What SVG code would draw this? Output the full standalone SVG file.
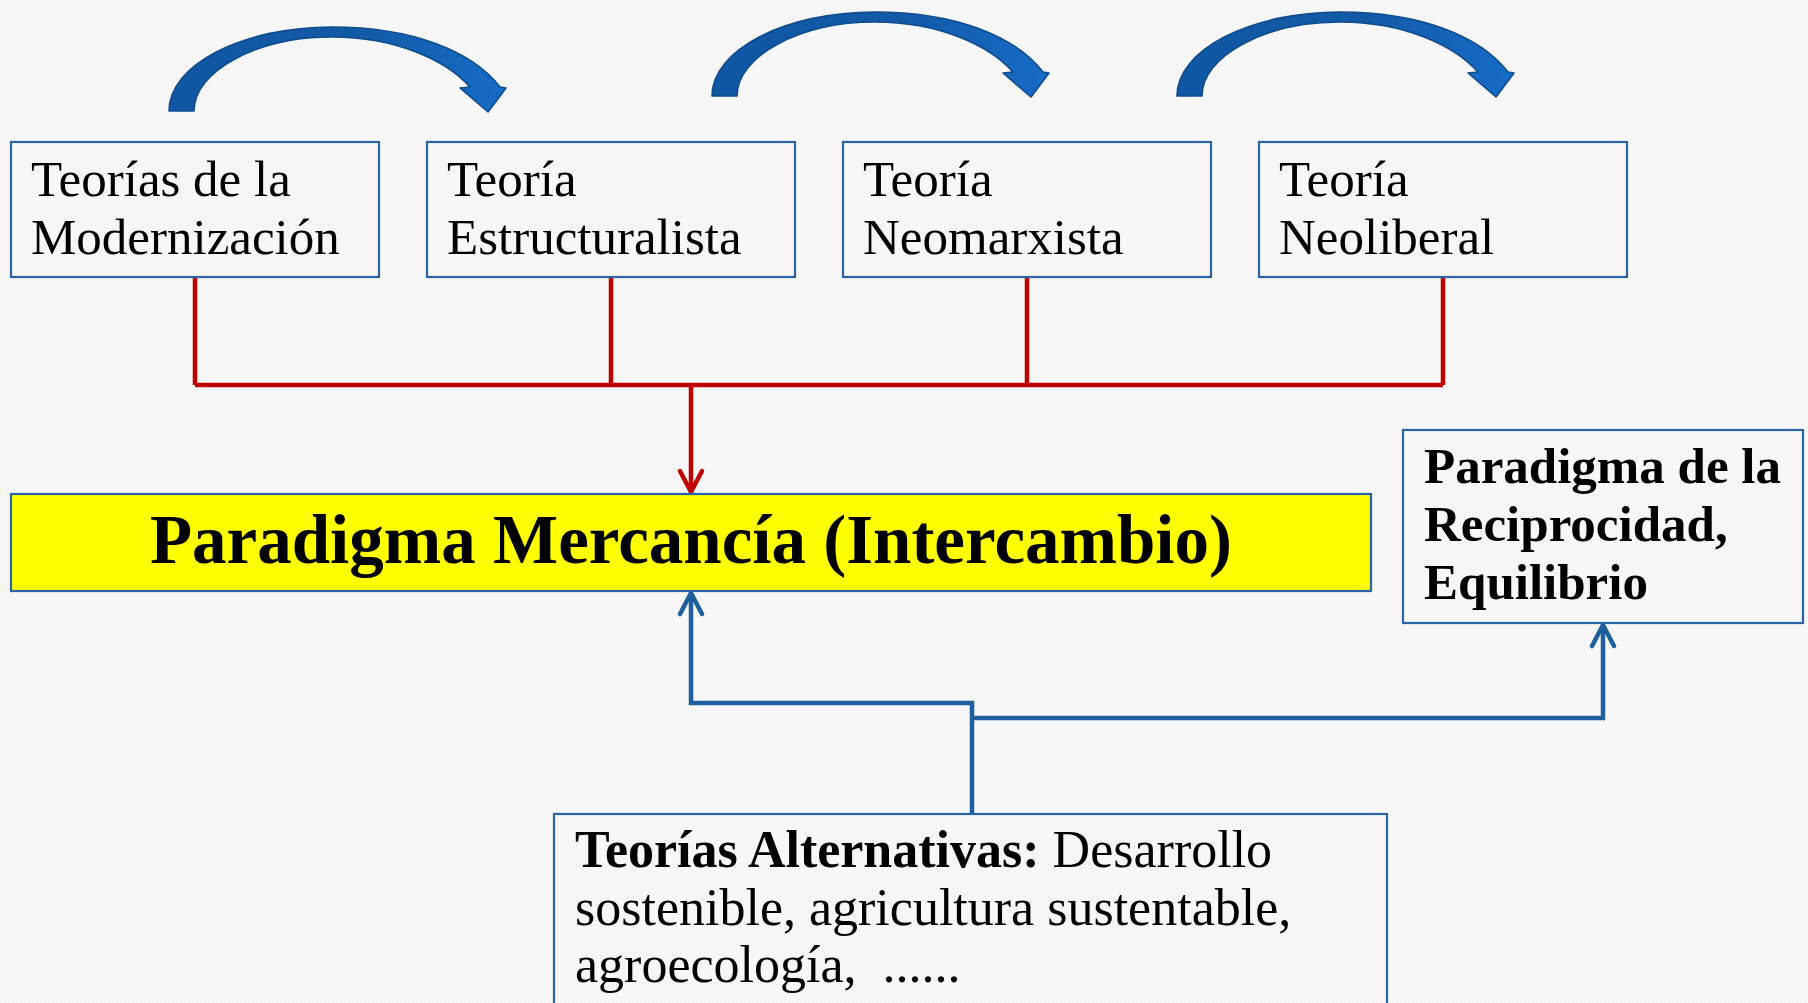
<svg xmlns="http://www.w3.org/2000/svg" width="1808" height="1003" viewBox="0 0 1808 1003">
<style>
.box{fill:none;stroke:#2A63A8;stroke-width:2.2}
.t{font-family:"Liberation Serif","Times New Roman",serif;fill:#000}
.reg{font-size:51px}
.bold{font-weight:bold}
.red{fill:none;stroke:#C00000;stroke-width:4.5}
.blue{fill:none;stroke:#1F5FA0;stroke-width:4.5}
.carrow{fill:url(#ag);stroke:#0E4C8E;stroke-width:1.6;stroke-linejoin:round}
</style>
<defs>
<pattern id="bg" width="4" height="4" patternUnits="userSpaceOnUse">
<rect width="4" height="4" fill="#F8F8F8"/>
<rect x="0" y="0" width="1" height="1" fill="#EDEDED"/>
<rect x="2" y="2" width="1" height="1" fill="#EFEFEF"/>
</pattern>
<linearGradient id="ag" x1="0" y1="0" x2="1" y2="0">
<stop offset="0" stop-color="#0F57A3"/>
<stop offset="0.55" stop-color="#1259A6"/>
<stop offset="1" stop-color="#176BC7"/>
</linearGradient>
<path id="curved" class="carrow" d="M 712,96 C 712,50 785,12 875,12 C 955,12 1015,36 1043,72 L 1049,73 L 1031,97 L 1003,73 L 1013,72 C 990,46 940,22 875,22 C 800,22 737,56 737,96 Z"/>
<marker id="mr" markerUnits="userSpaceOnUse" orient="auto" refX="0" refY="0" markerWidth="30" markerHeight="30" overflow="visible">
<path d="M -21,-11 L 0,0 L -21,11" fill="none" stroke="#C00000" stroke-width="4.5" stroke-linecap="round" stroke-linejoin="round"/>
</marker>
<marker id="mb" markerUnits="userSpaceOnUse" orient="auto" refX="0" refY="0" markerWidth="30" markerHeight="30" overflow="visible">
<path d="M -21,-11 L 0,0 L -21,11" fill="none" stroke="#1F5FA0" stroke-width="4.5" stroke-linecap="round" stroke-linejoin="round"/>
</marker>
</defs>
<rect width="1808" height="1003" fill="url(#bg)"/>

<g id="curved-arrows">
<use href="#curved" transform="translate(-543,15)"/>
<use href="#curved"/>
<use href="#curved" transform="translate(465,0)"/>
</g>

<g id="connectors">
<path class="red" d="M195,277 V385 M611,277 V385 M1027,277 V385 M1443,277 V385 M195,385 H1443"/>
<path class="red" d="M691,385 V492" marker-end="url(#mr)"/>
<path class="blue" d="M972,814 V703 H691 V593" marker-end="url(#mb)"/>
<path class="blue" d="M972,718 H1603 V625" marker-end="url(#mb)"/>
</g>

<g id="n1">
<rect class="box" x="11" y="142" width="368" height="135"/>
<text class="t reg" x="31" y="196">Teorías de la</text>
<text class="t reg" x="31" y="254">Modernización</text>
</g>
<g id="n2">
<rect class="box" x="427" y="142" width="368" height="135"/>
<text class="t reg" x="447" y="196">Teoría</text>
<text class="t reg" x="447" y="254">Estructuralista</text>
</g>
<g id="n3">
<rect class="box" x="843" y="142" width="368" height="135"/>
<text class="t reg" x="863" y="196">Teoría</text>
<text class="t reg" x="863" y="254">Neomarxista</text>
</g>
<g id="n4">
<rect class="box" x="1259" y="142" width="368" height="135"/>
<text class="t reg" x="1279" y="196">Teoría</text>
<text class="t reg" x="1279" y="254">Neoliberal</text>
</g>

<g id="n5">
<rect x="11" y="494" width="1360" height="97" fill="#FFFF00" stroke="#2A63A8" stroke-width="2.2"/>
<text class="t bold" x="691" y="563" font-size="69" text-anchor="middle">Paradigma Mercancía (Intercambio)</text>
</g>

<g id="n6">
<rect class="box" x="1403" y="430" width="400" height="193"/>
<text class="t bold" x="1424" y="483" font-size="51">Paradigma de la</text>
<text class="t bold" x="1424" y="541" font-size="51">Reciprocidad,</text>
<text class="t bold" x="1424" y="599" font-size="51">Equilibrio</text>
</g>

<g id="n7">
<rect class="box" x="554" y="814" width="833" height="200"/>
<text class="t" x="575" y="867" font-size="52"><tspan font-weight="bold">Teorías Alternativas:</tspan> Desarrollo</text>
<text class="t" x="575" y="925" font-size="52">sostenible, agricultura sustentable,</text>
<text class="t" x="575" y="982" font-size="52" xml:space="preserve">agroecología,  ......</text>
</g>
</svg>
